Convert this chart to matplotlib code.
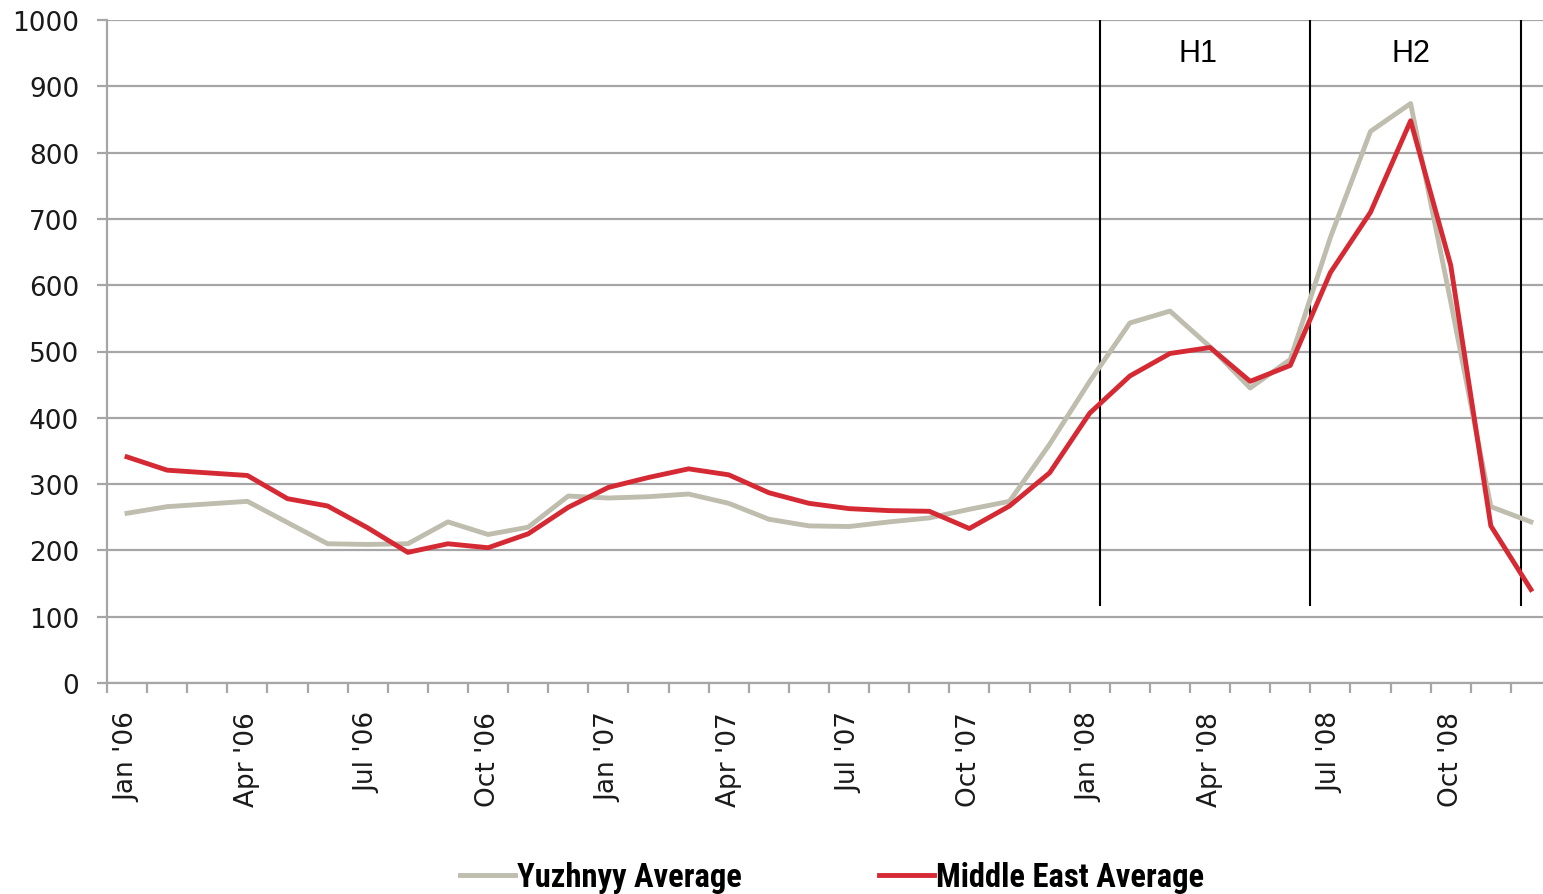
import matplotlib.pyplot as plt
import numpy as np

months = ["Jan", "Feb", "Mar", "Apr", "May", "Jun", "Jul", "Aug", "Sep", "Oct", "Nov", "Dec"]
years = ["06", "07", "08"]
labels = [m + " '" + y for y in years for m in months]

yuzhnyy = [256, 266, 270, 274, 242, 210, 209, 210, 243, 224,
           235, 282, 279, 281, 285, 271, 247, 237, 236, 243,
           249, 262, 274, 360, 455, 543, 561, 507, 445, 488,
           672, 832, 874, 575, 266, 243]
middle_east = [341, 321, 317, 313, 278, 267, 234, 197, 210, 204,
               225, 265, 295, 310, 323, 314, 287, 271, 263, 260,
               259, 233, 267, 317, 407, 463, 497, 506, 455, 479,
               619, 710, 848, 630, 237, 141]

half_lines = [24.26, 29.5, 34.74]
half_names = ["H1", "H2"]
half_label_x = [26.7, 32.0]

grid_col = '#a6a6a6'
fig = plt.figure(figsize=(15.43, 8.95), dpi=100)
ax = fig.add_axes([107/1543, 1 - 684/895, 1444/1543, 663/895])

x = np.arange(len(labels))
ax.set_xlim(-0.5, len(labels) - 0.5)
ax.set_ylim(0, 1000)

ax.set_yticks(np.arange(0, 1001, 100))
ax.yaxis.grid(True, color=grid_col, linewidth=1.6)
ax.set_axisbelow(True)

ax.set_xticks(x[::3])
ax.set_xticklabels(labels[::3], rotation=90, fontsize=19, color='#1a1a1a', family='DejaVu Sans')
ax.set_xticks(np.arange(-0.5, len(labels)), minor=True)
ax.tick_params(axis='x', which='major', length=0, pad=20)
ax.tick_params(axis='x', which='minor', length=7, width=1.6, color=grid_col)
ax.tick_params(axis='y', length=7, width=1.6, color=grid_col, pad=13,
               labelsize=19, labelcolor='#1a1a1a')
for t in ax.get_yticklabels():
    t.set_family('DejaVu Sans')

for s in ['top', 'right']:
    ax.spines[s].set_visible(False)
for s in ['left', 'bottom']:
    ax.spines[s].set_color(grid_col)
    ax.spines[s].set_linewidth(1.6)

ax.vlines(half_lines, 116, 1000, color='black', linewidth=1.5, zorder=2)
for xp, name in zip(half_label_x, half_names):
    ax.text(xp, 950, name, ha='center', va='center', fontsize=22, family='Liberation Sans')

ax.plot(x, yuzhnyy, color='#bfbdae', linewidth=3.5, label='Yuzhnyy Average', zorder=3)
ax.plot(x, middle_east, color='#d52a33', linewidth=3.5, label='Middle East Average', zorder=4)

fig.legend(loc='center', bbox_to_anchor=(832/1543, 1 - 878/895), ncol=2, frameon=False,
           handlelength=1.7, handletextpad=0.05, columnspacing=4.2,
           prop={'family': ['Roboto Condensed', 'Roboto'], 'weight': 'bold', 'size': 23.5})

fig.savefig('out.png', dpi=100)
